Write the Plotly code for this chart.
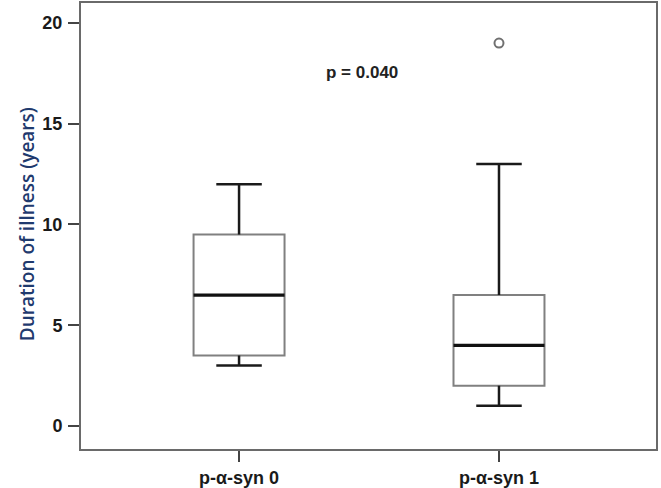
import plotly.graph_objects as go

# ---- data ----
categories = ["p-α-syn 0", "p-α-syn 1"]
q1 = [3.5, 2.0]
median = [6.5, 4.0]
q3 = [9.5, 6.5]
lower_whisker = [3.0, 1.0]
upper_whisker = [12.0, 13.0]
outlier_cat = [1]
outlier_val = [19.0]
y_ticks = [0, 5, 10, 15, 20]
p_text = "p = 0.040"

box_w = 0.35
cap_w = 0.175

xs = list(range(len(categories)))

fig = go.Figure()

# boxes (outline grey)
fig.add_trace(go.Box(
    x=xs, q1=q1, median=median, q3=q3,
    lowerfence=q1, upperfence=q3,
    width=box_w, fillcolor="white",
    line=dict(color="#808080", width=2),
    boxpoints=False, hoverinfo="skip", showlegend=False,
))

# whiskers, caps and medians in black
wx, wy = [], []
cx, cy = [], []
mx, my = [], []
for i in xs:
    wx += [i, i, None, i, i, None]
    wy += [q3[i], upper_whisker[i], None, q1[i], lower_whisker[i], None]
    cx += [i - cap_w / 2, i + cap_w / 2, None, i - cap_w / 2, i + cap_w / 2, None]
    cy += [upper_whisker[i], upper_whisker[i], None, lower_whisker[i], lower_whisker[i], None]
    mx += [i - box_w / 2, i + box_w / 2, None]
    my += [median[i], median[i], None]

fig.add_trace(go.Scatter(x=wx, y=wy, mode="lines", line=dict(color="#1a1a1a", width=2.5),
                         hoverinfo="skip", showlegend=False))
fig.add_trace(go.Scatter(x=cx, y=cy, mode="lines", line=dict(color="#1a1a1a", width=2.5),
                         hoverinfo="skip", showlegend=False))
fig.add_trace(go.Scatter(x=mx, y=my, mode="lines", line=dict(color="#111111", width=3.2),
                         hoverinfo="skip", showlegend=False))

# outlier
fig.add_trace(go.Scatter(
    x=outlier_cat, y=outlier_val, mode="markers",
    marker=dict(symbol="circle-open", size=9, color="#707070", line=dict(width=2)),
    hoverinfo="skip", showlegend=False,
))

fig.add_annotation(x=0.473, y=17.55, xref="x", yref="y", text="<b>" + p_text + "</b>",
                   showarrow=False, font=dict(family="Liberation Sans, Arial", size=17, color="#222222"))

fig.add_annotation(x=-0.121, y=0.505, xref="paper", yref="paper",
                   text="Duration of illness (years)", textangle=-90, showarrow=False,
                   font=dict(family="Open Sans", size=19, color="#1f3a6e", weight=600))

axis_common = dict(showline=True, linecolor="#6a6a6a", linewidth=2, mirror=True,
                   showgrid=False, zeroline=False, ticks="outside", tickcolor="#444444",
                   ticklen=11, tickwidth=1.5, automargin=False,
                   tickfont=dict(family="Liberation Sans, Arial", size=18, color="#1a1a1a",
                                 weight="bold"))

fig.update_layout(
    width=661, height=488,
    margin=dict(l=81, r=5, t=3, b=39),
    plot_bgcolor="white", paper_bgcolor="white",
    xaxis=dict(range=[-0.608, 1.604], tickmode="array", tickvals=xs, ticktext=categories,
               **axis_common),
    yaxis=dict(range=[-1.14, 20.99], tickmode="array", tickvals=y_ticks, ticklabelstandoff=2,
               **axis_common),
)

fig.write_html("out.html")
